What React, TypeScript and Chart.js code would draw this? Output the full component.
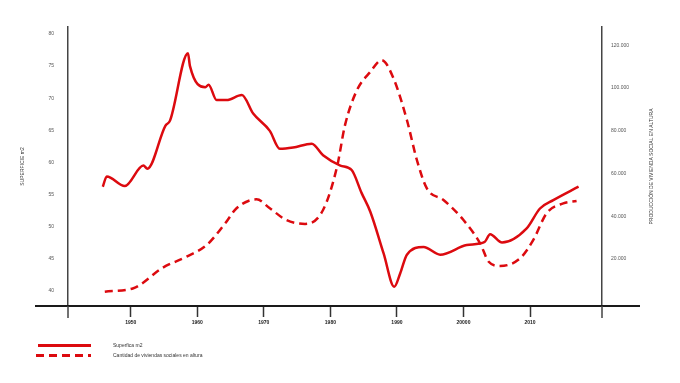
import React, { useEffect, useRef } from "react";
import { Chart, registerables } from "chart.js";

Chart.register(...registerables);

// ---- data ----
const supYears = [1945.8, 1946.4, 1949.1, 1951.9, 1952.5, 1955.2, 1955.9, 1958.6, 1958.9, 1961.2, 1961.7, 1962.9, 1964.4, 1966.7, 1968.4, 1970.9, 1972.4, 1974.4, 1977.2, 1978.9, 1981.5, 1983.2, 1984.7, 1986.0, 1988.0, 1989.6, 1990.5, 1991.5, 1994.0, 1996.5, 2000.5, 2003.2, 2004.0, 2005.8, 2009.5, 2011.5, 2013.5, 2017.3];
const supValues = [56.2, 57.8, 56.3, 59.5, 59.0, 65.7, 66.5, 77.0, 75.0, 71.7, 72.1, 69.7, 69.7, 70.5, 67.6, 64.9, 62.1, 62.3, 62.9, 61.1, 59.5, 58.8, 55.2, 52.3, 45.8, 40.6, 42.7, 45.6, 46.8, 45.6, 47.1, 47.6, 48.8, 47.5, 49.7, 52.8, 54.1, 56.2];

const vivYears = [1946.1, 1950.4, 1951.4, 1954.7, 1958.4, 1961.4, 1964.2, 1965.9, 1968.9, 1970.9, 1973.4, 1976.2, 1978.9, 1981.0, 1982.2, 1984.0, 1986.0, 1987.7, 1989.5, 1991.5, 1993.0, 1994.5, 1997.0, 2000.0, 2002.5, 2003.8, 2005.5, 2008.5, 2010.5, 2012.5, 2015.0, 2017.0];
const vivValues = [4700, 6300, 7900, 15700, 21100, 26500, 36700, 43700, 47900, 43700, 38200, 36400, 42900, 63100, 82600, 99000, 107500, 113000, 104400, 85000, 66300, 53000, 47600, 38200, 27300, 18700, 16700, 20300, 28900, 41400, 46000, 47100];

const xTickYears = [1950, 1960, 1970, 1980, 1990, 2000, 2010];
const xTickLabels = ["1950", "1960", "1970", "1980", "1990", "20000", "2010"];
const leftTicks = [40, 45, 50, 55, 60, 65, 70, 75, 80];
const rightTicks = [20000, 40000, 60000, 80000, 100000, 120000];
const rightTickLabels = ["20.000", "40.000", "60.000", "80.000", "100.000", "120.000"];

const seriesNames = ["Superfica m2", "Cantidad de viviendas sociales en altura"];
const leftTitle = "SUPERFICIE m2";
const rightTitle = "PRODUCCIÓN DE VIVIENDA SOCIAL EN ALTURA";

const RED = "#dc0a0f";
const FONT = "'Liberation Sans', Arial, sans-serif";

export default function App() {
  const canvasRef = useRef<HTMLCanvasElement | null>(null);

  useEffect(() => {
    if (!canvasRef.current) return;

    const axisExtras = {
      id: "axisExtras",
      afterDraw(chart: any) {
        const { ctx, chartArea: a } = chart;
        ctx.save();
        // extended horizontal axis line
        ctx.strokeStyle = "#1a1a1a";
        ctx.lineWidth = 2;
        ctx.beginPath();
        ctx.moveTo(a.left - 33, a.bottom);
        ctx.lineTo(a.right + 38, a.bottom);
        ctx.stroke();
        // vertical axes extending below the baseline
        ctx.strokeStyle = "#444";
        ctx.lineWidth = 1.5;
        ctx.beginPath();
        ctx.moveTo(a.left, a.bottom);
        ctx.lineTo(a.left, a.bottom + 12);
        ctx.moveTo(a.right, a.bottom);
        ctx.lineTo(a.right, a.bottom + 12);
        ctx.stroke();
        // right axis title (reading bottom to top)
        ctx.translate(chart.width - 28, (a.top + a.bottom) / 2);
        ctx.rotate(-Math.PI / 2);
        ctx.fillStyle = "#333";
        ctx.font = `5px ${FONT}`;
        ctx.textAlign = "center";
        ctx.textBaseline = "middle";
        ctx.fillText(rightTitle, 0, 0);
        ctx.restore();
      },
    };

    const chart = new Chart(canvasRef.current, {
      type: "line",
      data: {
        datasets: [
          {
            label: seriesNames[0],
            data: supYears.map((x, i) => ({ x, y: supValues[i] })),
            borderColor: RED,
            borderWidth: 2.5,
            pointRadius: 0,
            cubicInterpolationMode: "monotone",
            yAxisID: "y",
          },
          {
            label: seriesNames[1],
            data: vivYears.map((x, i) => ({ x, y: vivValues[i] })),
            borderColor: RED,
            borderWidth: 2.5,
            borderDash: [8, 5],
            pointRadius: 0,
            cubicInterpolationMode: "monotone",
            yAxisID: "y1",
          },
        ],
      },
      plugins: [axisExtras],
      options: {
        animation: false,
        responsive: true,
        maintainAspectRatio: false,
        layout: { padding: { top: 27, left: 0, right: 0, bottom: 0 } },
        plugins: {
          legend: { display: false },
          tooltip: { enabled: false },
        },
        scales: {
          x: {
            type: "linear",
            min: 1940.57,
            max: 2020.82,
            afterFit: (s: any) => {
              s.height = 77;
            },
            afterBuildTicks: (s: any) => {
              s.ticks = xTickYears.map((v) => ({ value: v }));
            },
            border: { display: false },
            grid: {
              drawOnChartArea: false,
              drawTicks: true,
              tickLength: 11,
              tickColor: "#333",
              tickWidth: 1.5,
            },
            ticks: {
              padding: 3,
              maxRotation: 0,
              color: "#222",
              font: { family: FONT, size: 5, weight: "bold" },
              callback: (v: any) => {
                const i = xTickYears.indexOf(Number(v));
                return i >= 0 ? xTickLabels[i] : "";
              },
            },
          },
          y: {
            type: "linear",
            position: "left",
            min: 37.6,
            max: 81.1,
            afterFit: (s: any) => {
              s.width = 68;
            },
            afterBuildTicks: (s: any) => {
              s.ticks = leftTicks.map((v) => ({ value: v }));
            },
            border: { display: true, color: "#444", width: 1.5 },
            grid: { drawOnChartArea: false, drawTicks: false },
            ticks: {
              padding: 14,
              color: "#555",
              font: { family: FONT, size: 5 },
            },
            title: {
              display: true,
              text: leftTitle,
              color: "#333",
              font: { family: FONT, size: 5 },
              padding: { top: 20, bottom: 0 },
            },
          },
          y1: {
            type: "linear",
            position: "right",
            min: -2000,
            max: 128500,
            afterFit: (s: any) => {
              s.width = 78;
            },
            afterBuildTicks: (s: any) => {
              s.ticks = rightTicks.map((v) => ({ value: v }));
            },
            border: { display: true, color: "#444", width: 1.5 },
            grid: { drawOnChartArea: false, drawTicks: false },
            ticks: {
              padding: 9,
              color: "#555",
              font: { family: FONT, size: 5 },
              callback: (v: any) => {
                const i = rightTicks.indexOf(Number(v));
                return i >= 0 ? rightTickLabels[i] : "";
              },
            },
          },
        },
      },
    });

    return () => chart.destroy();
  }, []);

  const legendText: React.CSSProperties = {
    position: "absolute",
    left: 113,
    fontFamily: FONT,
    fontSize: 5,
    color: "#333",
    lineHeight: "6px",
    whiteSpace: "nowrap",
  };

  return (
    <div style={{ position: "fixed", left: 0, top: 0, width: 680, height: 383, background: "#fff" }}>
      <canvas ref={canvasRef} />
      <div style={{ position: "absolute", left: 38, top: 344, width: 53, height: 2.5, background: RED }} />
      <div
        style={{
          position: "absolute",
          left: 36,
          top: 354,
          width: 55,
          height: 2.5,
          background: `repeating-linear-gradient(to right, ${RED} 0px, ${RED} 8px, transparent 8px, transparent 13px)`,
        }}
      />
      <div style={{ ...legendText, top: 342 }}>{seriesNames[0]}</div>
      <div style={{ ...legendText, top: 352 }}>{seriesNames[1]}</div>
    </div>
  );
}
